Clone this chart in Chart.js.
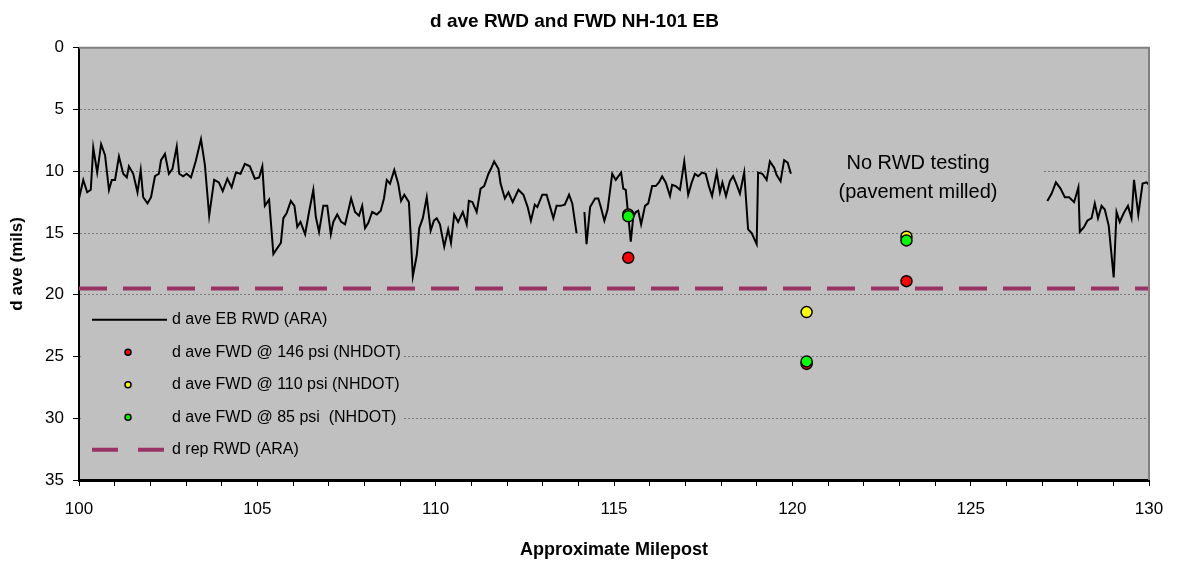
<!DOCTYPE html>
<html lang="en">
<head>
  <meta charset="UTF-8" />
  <title>d ave RWD and FWD NH-101 EB</title>
  <script src="https://cdn.jsdelivr.net/npm/chart.js"></script>
  <style>
    * { box-sizing: border-box; margin: 0; padding: 0; }
    body { background: #fff; width: 1181px; height: 570px; overflow: hidden; }
    #chart { display: block; }
  </style>
</head>
<body>
<canvas id="chart" width="1181" height="570"></canvas>

<script>
  // RWD (ARA) readings, milepost vs deflection; null = no data (gaps)
  const rwdMile = [
    100.00, 100.12, 100.23, 100.33, 100.40, 100.51, 100.62, 100.73, 100.84, 100.92,
    101.01, 101.12, 101.24, 101.34, 101.40, 101.52, 101.64, 101.73, 101.80, 101.92,
    102.02, 102.13, 102.24, 102.30, 102.41, 102.52, 102.62, 102.74, 102.81, 102.92,
    103.02, 103.14, 103.27, 103.42, 103.53, 103.65, 103.79, 103.92, 104.03, 104.16,
    104.28, 104.40, 104.53, 104.65, 104.79, 104.93, 105.05, 105.14, 105.21, 105.33,
    105.45, 105.54, 105.66, 105.73, 105.82, 105.94, 106.04, 106.12, 106.21, 106.34,
    106.45, 106.57, 106.64, 106.73, 106.85, 106.96, 107.06, 107.13, 107.24, 107.35,
    107.46, 107.63, 107.74, 107.85, 107.94, 108.02, 108.11, 108.22, 108.35, 108.46,
    108.55, 108.63, 108.72, 108.84, 108.95, 109.03, 109.12, 109.25, 109.36, 109.47,
    109.54, 109.64, 109.75, 109.86, 109.95, 110.03, 110.12, 110.24, 110.35, 110.43,
    110.52, 110.63, 110.76, 110.87, 110.93, 111.03, 111.15, 111.26, 111.36, 111.48,
    111.55, 111.64, 111.76, 111.82, 111.94, 112.04, 112.16, 112.32, 112.46, 112.58,
    112.67, 112.78, 112.85, 112.99, 113.11, 113.20, 113.30, 113.39, 113.50, 113.62,
    113.74, 113.83, 113.95, 114.05, 114.17, 114.23, 114.33, 114.47, 114.56, 114.63,
    114.73, 114.82, 114.95, 115.05, 115.10, 115.20, 115.26, 115.33, 115.40, 115.47,
    115.54, 115.61, 115.68, 115.76, 115.87, 115.96, 116.07, 116.17, 116.26, 116.35,
    116.45, 116.57, 116.63, 116.73, 116.85, 116.97, 117.08, 117.18, 117.27, 117.36,
    117.47, 117.57, 117.66, 117.75, 117.88, 117.97, 118.04, 118.14, 118.25, 118.34,
    118.44, 118.53, 118.65, 118.76, 118.86, 119.00, 119.04, 119.16, 119.28, 119.37,
    119.49, 119.56, 119.67, 119.77, 119.87, 119.96, 123.50,
    127.15, 127.27, 127.39, 127.52, 127.64, 127.76, 127.90, 128.02, 128.06, 128.18,
    128.27, 128.39, 128.48, 128.57, 128.67, 128.76, 128.87, 129.01, 129.09, 129.18,
    129.29, 129.41, 129.51, 129.58, 129.70, 129.82, 129.93, 130.00
  ];
  const rwdDefl = [
    12.2, 10.7, 11.7, 11.5, 8.1, 10.1, 7.8, 8.7, 11.5, 10.7,
    10.7, 8.8, 10.2, 10.5, 9.6, 10.2, 11.7, 9.9, 12.1, 12.6,
    12.1, 10.4, 10.2, 9.1, 8.6, 10.2, 9.8, 8.0, 10.2, 10.4,
    10.2, 10.5, 9.2, 7.4, 9.5, 13.6, 10.7, 10.9, 11.6, 10.6,
    11.3, 10.1, 10.2, 9.4, 9.6, 10.6, 10.5, 9.6, 12.8, 12.3,
    16.7, 16.3, 15.8, 13.8, 13.4, 12.4, 12.8, 14.5, 14.1, 15.1,
    13.3, 11.5, 13.7, 14.9, 12.8, 12.8, 15.1, 14.1, 13.5, 14.1,
    14.3, 12.2, 13.3, 13.6, 12.8, 14.6, 14.2, 13.3, 13.5, 13.2,
    12.2, 10.7, 11.0, 9.9, 11.0, 12.4, 11.9, 12.5, 18.5, 16.8,
    14.6, 13.8, 12.1, 14.8, 14.0, 13.8, 14.3, 16.1, 14.7, 15.8,
    13.5, 14.1, 13.3, 14.3, 12.4, 12.5, 13.3, 11.4, 11.2, 10.2,
    9.8, 9.2, 9.8, 11.0, 12.2, 11.7, 12.5, 11.5, 11.9, 12.9,
    14.0, 12.7, 12.9, 11.9, 11.9, 12.8, 13.8, 12.8, 12.8, 12.7,
    11.9, 12.6, 15.0, null, 13.3, 15.9, 12.9, 12.2, 12.2, 12.9,
    14.0, 13.1, 10.2, 10.7, 10.5, 10.1, 11.4, 11.5, 13.6, 15.7,
    13.7, 13.3, 13.2, 14.3, 12.8, 12.6, 11.2, 11.2, 10.9, 10.4,
    10.9, 12.0, 11.1, 11.2, 11.5, 9.2, 11.9, 10.9, 10.2, 10.4,
    10.1, 10.2, 11.2, 12.0, 10.1, 11.7, 10.9, 12.0, 10.8, 10.4,
    11.1, 11.8, 10.1, 14.7, 15.0, 15.9, 10.1, 10.2, 10.7, 9.2,
    9.7, 10.3, 10.8, 9.1, 9.3, 10.2, null,
    12.4, 11.8, 10.9, 11.4, 12.1, 12.1, 12.5, 11.3, 14.9, 14.5,
    14.0, 13.8, 12.6, 13.8, 12.8, 13.1, 14.4, 18.6, 13.3, 14.1,
    13.4, 12.8, 13.8, 10.7, 13.5, 11.0, 10.9, 11.1
  ];

  // FWD (NHDOT) test points
  const fwdMile = [115.4, 120.4, 123.2];
  const fwd146 = [17.0, 25.6, 18.9];
  const fwd110 = [13.5, 21.4, 15.3];
  const fwd85 = [13.65, 25.4, 15.6];

  // representative RWD deflection
  const repMile = [100, 130];
  const repValue = 19.5;

  const FONT = "'Liberation Sans', Arial, sans-serif";
  const PLUM = '#993366';

  const pts = (xs, ys) => xs.map((x, i) => ({ x: x, y: ys[i] }));

  const legendItems = [
    { label: 'd ave EB RWD (ARA)', kind: 'line' },
    { label: 'd ave FWD @ 146 psi (NHDOT)', kind: 'dot', color: '#ff0000' },
    { label: 'd ave FWD @ 110 psi (NHDOT)', kind: 'dot', color: '#ffff00' },
    { label: 'd ave FWD @ 85 psi  (NHDOT)', kind: 'dot', color: '#00ff00' },
    { label: 'd rep RWD (ARA)', kind: 'dash' }
  ];

  // gray plot area, legend box inside the plot, note text
  const plotDeco = {
    id: 'plotDeco',
    beforeDraw(chart) {
      const { ctx, chartArea: a } = chart;
      ctx.save();
      ctx.fillStyle = '#c0c0c0';
      ctx.fillRect(a.left, a.top, a.right - a.left, a.bottom - a.top);
      ctx.restore();
    },
    beforeDatasetsDraw(chart) {
      const { ctx, chartArea: a } = chart;
      ctx.save();
      ctx.fillStyle = '#c0c0c0';
      // legend box hides grid lines
      ctx.fillRect(a.left + 2, a.top + 252, 323, 170);
      // note box
      ctx.fillRect(a.left + 713, a.top + 92, 251, 72);
      ctx.restore();
    },
    afterDatasetsDraw(chart) {
      const { ctx, chartArea: a } = chart;
      ctx.save();
      // plot frame top and right
      ctx.strokeStyle = '#808080';
      ctx.lineWidth = 2;
      ctx.beginPath();
      ctx.moveTo(a.left, a.top);
      ctx.lineTo(a.right, a.top);
      ctx.lineTo(a.right, a.bottom);
      ctx.stroke();

      // legend
      ctx.font = '16px ' + FONT;
      ctx.textBaseline = 'middle';
      ctx.textAlign = 'left';
      legendItems.forEach((it, i) => {
        const y = a.top + 272 + i * 32.5;
        if (it.kind === 'line') {
          ctx.strokeStyle = '#000';
          ctx.lineWidth = 2;
          ctx.setLineDash([]);
          ctx.beginPath();
          ctx.moveTo(a.left + 13, y);
          ctx.lineTo(a.left + 88, y);
          ctx.stroke();
        } else if (it.kind === 'dash') {
          ctx.strokeStyle = PLUM;
          ctx.lineWidth = 4;
          ctx.setLineDash([26, 20]);
          ctx.beginPath();
          ctx.moveTo(a.left + 13, y);
          ctx.lineTo(a.left + 88, y);
          ctx.stroke();
          ctx.setLineDash([]);
        } else {
          ctx.fillStyle = it.color;
          ctx.strokeStyle = '#000';
          ctx.lineWidth = 1.5;
          ctx.beginPath();
          ctx.arc(a.left + 49, y, 3, 0, Math.PI * 2);
          ctx.fill();
          ctx.stroke();
        }
        ctx.fillStyle = '#000';
        ctx.fillText(it.label, a.left + 93, y);
      });

      // note
      ctx.font = '20px ' + FONT;
      ctx.textAlign = 'center';
      ctx.fillStyle = '#000';
      ctx.fillText('No RWD testing', a.left + 839, a.top + 116);
      ctx.fillText('(pavement milled)', a.left + 839, a.top + 145);
      ctx.restore();
    }
  };

  const dot = (label, color, ys, order) => ({
    type: 'scatter',
    label: label,
    data: pts(fwdMile, ys),
    backgroundColor: color,
    borderColor: '#000',
    borderWidth: 1.5,
    pointRadius: 5.5,
    order: order
  });

  new Chart(document.getElementById('chart'), {
    type: 'line',
    data: {
      datasets: [
        {
          label: 'd ave EB RWD (ARA)',
          data: pts(rwdMile, rwdDefl),
          borderColor: '#000',
          borderWidth: 2,
          pointRadius: 0,
          spanGaps: false,
          tension: 0,
          order: 5
        },
        dot('d ave FWD @ 146 psi (NHDOT)', '#ff0000', fwd146, 3),
        dot('d ave FWD @ 110 psi (NHDOT)', '#ffff00', fwd110, 2),
        dot('d ave FWD @ 85 psi  (NHDOT)', '#00ff00', fwd85, 1),
        {
          label: 'd rep RWD (ARA)',
          data: repMile.map(m => ({ x: m, y: repValue })),
          borderColor: PLUM,
          borderWidth: 4,
          borderDash: [28, 16],
          pointRadius: 0,
          order: 4
        }
      ]
    },
    plugins: [plotDeco],
    options: {
      responsive: false,
      animation: false,
      layout: { padding: { left: 0, right: 32, top: 0, bottom: 0 } },
      plugins: {
        legend: { display: false },
        tooltip: { enabled: false },
        title: {
          display: true,
          text: 'd ave RWD and FWD NH-101 EB',
          color: '#000',
          font: { family: FONT, size: 19, weight: 'bold' },
          padding: { top: 10, bottom: 15 }
        }
      },
      scales: {
        x: {
          type: 'linear',
          min: 100,
          max: 130,
          afterFit: s => { s.height = 90; },
          ticks: {
            stepSize: 1,
            autoSkip: false,
            maxRotation: 0,
            padding: 13,
            color: '#000',
            font: { family: FONT, size: 17 },
            callback: v => (v % 5 === 0 ? v : '')
          },
          grid: { drawOnChartArea: false, tickLength: 6, tickColor: '#000', tickWidth: 1 },
          border: { color: '#000', width: 3 },
          title: {
            display: true,
            text: 'Approximate Milepost',
            color: '#000',
            font: { family: FONT, size: 18, weight: 'bold' },
            padding: { top: 9, bottom: 9 }
          }
        },
        y: {
          reverse: true,
          min: 0,
          max: 35,
          afterFit: s => { s.width = 79; },
          ticks: {
            stepSize: 5,
            padding: 9,
            color: '#000',
            font: { family: FONT, size: 17 }
          },
          grid: { color: '#7a7a7a', lineWidth: 1, tickLength: 6, tickColor: '#000', tickWidth: 1 },
          border: { color: '#000', width: 2, dash: [2, 2] },
          title: {
            display: true,
            text: 'd ave (mils)',
            color: '#000',
            font: { family: FONT, size: 17, weight: 'bold' },
            padding: { top: 7, bottom: 7 }
          }
        }
      }
    }
  });
</script>
</body>
</html>
